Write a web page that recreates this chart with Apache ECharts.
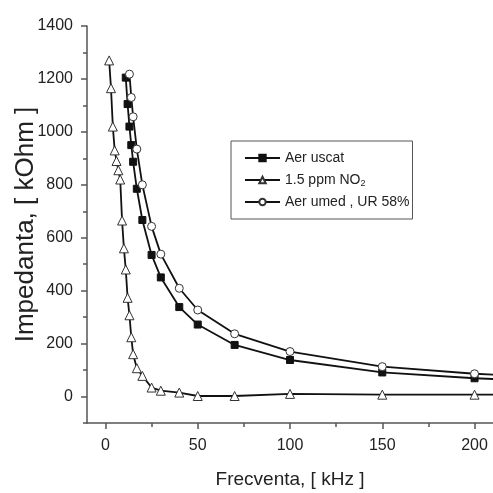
<!DOCTYPE html>
<html>
<head>
<meta charset="utf-8">
<script src="https://cdn.jsdelivr.net/npm/echarts@6/dist/echarts.min.js"></script>
<style>html,body{margin:0;padding:0;background:#fff}#c{width:493px;height:493px}</style>
</head>
<body>
<div id="c"></div>
<script>
// Data
var freqDry   = [11,12,13,14,15,17,20,25,30,40,50,70,100,150,200,250];
var dry       = [1205,1105,1020,950,887,785,667,535,450,338,272,195,138,91,69,55];
var freqNO2   = [2,3,4,5,6,7,8,9,10,11,12,13,14,15,17,20,25,30,40,50,70,100,150,200,250];
var no2       = [1270,1165,1020,930,890,855,820,665,560,480,373,307,224,160,107,78,34,22,15,2,2,10,7,7,7];
var freqHumid = [13,14,15,17,20,25,30,40,50,70,100,150,200,250];
var humid     = [1218,1130,1057,935,800,643,538,409,327,237,170,113,86,70];
var seriesNames = ['Aer uscat', '1.5 ppm NO2', 'Aer umed , UR 58%'];
var xTickLabels = [0,50,100,150,200];
var xMinorTicks = [25,75,125,175];
var yTickLabels = [0,200,400,600,800,1000,1200,1400];
var yMinorTicks = [-100,100,300,500,700,900,1100,1300];

function pairs(xs, ys){ return xs.map(function(x,i){ return [x, ys[i]]; }); }

var FONT = 'Liberation Sans';
var axisCol = '#555';
var lineCol = '#111';

var chart = echarts.init(document.getElementById('c'), null, {renderer:'canvas'});
chart.setOption({
  backgroundColor: '#fff',
  animation: false,
  textStyle: {fontFamily: FONT},
  grid: {left: 87, right: 0, top: 26, bottom: 70, containLabel: false, outerBoundsMode: 'none'},
  legend: {
    orient: 'vertical',
    left: 231, top: 141,
    padding: [9, 3, 9, 13],
    itemGap: 6,
    itemWidth: 35, itemHeight: 8,
    borderColor: '#555', borderWidth: 1,
    data: seriesNames,
    formatter: function(n){ return n === '1.5 ppm NO2' ? '1.5 ppm NO{sub|2}' : n; },
    textStyle: {fontFamily: FONT, fontSize: 14, color: '#222', lineHeight: 16,
      rich: {sub: {fontSize: 9, lineHeight: 16, padding: [7,0,0,0], fontFamily: FONT, color:'#222'}}}
  },
  xAxis: [{
    type: 'value', min: -10, max: 210, position: 'bottom',
    name: 'Frecventa, [ kHz ]', nameLocation: 'middle', nameGap: 47, nameMoveOverlap: false,
    nameTextStyle: {fontFamily: FONT, fontSize: 19, color: '#222'},
    axisLine: {show: true, onZero: false, lineStyle: {color: axisCol, width: 1.5}},
    axisTick: {show: true, inside: false, length: 6, customValues: xTickLabels, lineStyle: {color: axisCol, width: 1.5}},
    axisLabel: {show: true, margin: 15, customValues: xTickLabels, fontFamily: FONT, fontSize: 16, color: '#222'},
    splitLine: {show: false}
  }, {
    type: 'value', min: -10, max: 210, position: 'bottom', gridIndex: 0,
    axisLine: {show: false, onZero: false},
    axisTick: {show: true, inside: false, length: 4, customValues: xMinorTicks, lineStyle: {color: axisCol, width: 1.5}},
    axisLabel: {show: false},
    splitLine: {show: false}
  }],
  yAxis: [{
    type: 'value', min: -100, max: 1400, position: 'left',
    name: 'Impedanta, [ kOhm ]', nameLocation: 'middle', nameGap: 48, nameRotate: 90, nameMoveOverlap: false,
    nameTextStyle: {fontFamily: FONT, fontSize: 26, color: '#222'},
    axisLine: {show: true, onZero: false, lineStyle: {color: axisCol, width: 1.5}},
    axisTick: {show: true, inside: false, length: 6, customValues: yTickLabels, lineStyle: {color: axisCol, width: 1.5}},
    axisLabel: {show: true, margin: 14, customValues: yTickLabels, fontFamily: FONT, fontSize: 16, color: '#222',
      formatter: function(v){ return String(v); }},
    splitLine: {show: false}
  }, {
    type: 'value', min: -100, max: 1400, position: 'left', gridIndex: 0,
    axisLine: {show: false, onZero: false},
    axisTick: {show: true, inside: false, length: 4, customValues: yMinorTicks, lineStyle: {color: axisCol, width: 1.5}},
    axisLabel: {show: false},
    splitLine: {show: false}
  }],
  series: [{
    name: seriesNames[0], type: 'line', data: pairs(freqDry, dry),
    symbol: 'rect', symbolSize: 7, clip: true,
    lineStyle: {color: lineCol, width: 1.8},
    itemStyle: {color: lineCol, borderColor: lineCol, borderWidth: 1}
  }, {
    name: seriesNames[1], type: 'line', data: pairs(freqNO2, no2),
    symbol: 'triangle', symbolSize: 9, clip: true,
    lineStyle: {color: lineCol, width: 1.8},
    itemStyle: {color: '#fff', borderColor: '#333', borderWidth: 1}
  }, {
    name: seriesNames[2], type: 'line', data: pairs(freqHumid, humid),
    symbol: 'circle', symbolSize: 8, clip: true,
    lineStyle: {color: lineCol, width: 1.8},
    itemStyle: {color: '#fff', borderColor: '#333', borderWidth: 1}
  }]
});
</script>
</body>
</html>
